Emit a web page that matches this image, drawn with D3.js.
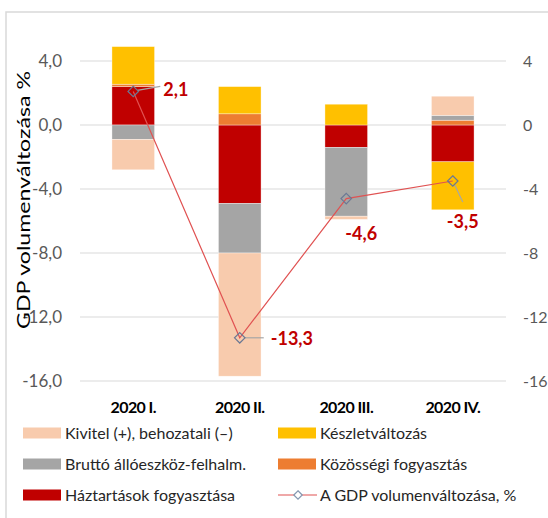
<!DOCTYPE html>
<html>
<head>
<meta charset="utf-8">
<script src="https://cdnjs.cloudflare.com/ajax/libs/d3/7.8.5/d3.min.js"></script>
<style>
  body { margin: 0; background: #fff; }
  svg { display: block; font-family: Lato, "Open Sans", sans-serif; }
</style>
</head>
<body>
<div id="chart"></div>
<script>
// quarters and contributions (percentage points)
const quarters = ["2020 I.", "2020 II.", "2020 III.", "2020 IV."];
const haztartasok = [2.4, -4.9, -1.4, -2.3];
const kozossegi = [0.15, 0.7, 0, 0.3];
const brutto = [-0.9, -3.1, -4.3, 0.3];
const keszlet = [2.35, 1.7, 1.3, -3.0];
const kivitel = [-1.9, -7.7, -0.2, 1.2];
const gdp = [2.1, -13.3, -4.6, -3.5];
const leftTicks = [4, 0, -4, -8, -12, -16];

const seriesKeys = ["haztartasok", "kozossegi", "brutto", "keszlet", "kivitel"];
const seriesNames = {
    kivitel: "Kivitel (+), behozatali (\u2013)",
    keszlet: "Készletváltozás",
    brutto: "Bruttó állóeszköz-felhalm.",
    kozossegi: "Közösségi fogyasztás",
    haztartasok: "Háztartások fogyasztása"
};
const colors = {
    haztartasok: "#C00000",
    kozossegi: "#ED7D31",
    brutto: "#A5A5A5",
    keszlet: "#FFC000",
    kivitel: "#F8CBAD"
};
const lineName = "A GDP volumenváltozása, %";

const W = 548, H = 518;
const margin = {top: 61, right: 42, bottom: 137, left: 80};
const width = W - margin.left - margin.right,
      height = H - margin.top - margin.bottom;

const svg = d3.select("#chart").append("svg")
    .attr("width", W)
    .attr("height", H);

// chart frame
svg.append("rect")
    .attr("x", 6).attr("y", 12)
    .attr("width", W + 20).attr("height", H + 20)
    .attr("fill", "none")
    .attr("stroke", "#d9d9d9")
    .attr("stroke-width", 1.5);

const g = svg.append("g")
    .attr("transform", "translate(" + margin.left + "," + margin.top + ")");

const table = quarters.map(function(q, i) {
    return {
        q: q,
        haztartasok: haztartasok[i],
        kozossegi: kozossegi[i],
        brutto: brutto[i],
        keszlet: keszlet[i],
        kivitel: kivitel[i],
        gdp: gdp[i]
    };
});

const x = d3.scaleBand()
    .domain(quarters)
    .range([0, width])
    .paddingInner(0.6)
    .paddingOuter(0.3);

const y = d3.scaleLinear()
    .domain([-16, 4])
    .range([height, 0]);

// gridlines
g.append("g")
    .selectAll("line")
    .data(leftTicks)
    .join("line")
    .attr("x1", 0).attr("x2", width)
    .attr("y1", function(d) { return y(d); })
    .attr("y2", function(d) { return y(d); })
    .attr("stroke", "#d9d9d9")
    .attr("stroke-width", 1.2);

// left axis
const leftAxis = g.append("g")
    .call(d3.axisLeft(y).tickValues(leftTicks).tickSize(0).tickPadding(18)
        .tickFormat(function(d) { return d3.format(".1f")(d).replace(".", ",").replace("−", "-"); }));
leftAxis.select(".domain").remove();
leftAxis.selectAll("text")
    .attr("fill", "#595959")
    .style("font-family", "Lato, sans-serif")
    .style("font-size", "17px");

// right axis
const rightAxis = g.append("g")
    .attr("transform", "translate(" + width + ",0)")
    .call(d3.axisRight(y).tickValues(leftTicks).tickSize(0).tickPadding(17)
        .tickFormat(function(d) { return String(d); }));
rightAxis.select(".domain").remove();
rightAxis.selectAll("text")
    .attr("fill", "#595959")
    .style("font-family", "Lato, sans-serif")
    .style("font-size", "16px");

// category labels
const xAxis = g.append("g")
    .attr("transform", "translate(0," + height + ")")
    .call(d3.axisBottom(x).tickSize(0).tickPadding(21));
xAxis.select(".domain").remove();
xAxis.selectAll("text")
    .attr("fill", "#000")
    .style("font-family", "Lato, sans-serif")
    .style("font-weight", "bold")
    .style("font-size", "16px")
    .style("letter-spacing", "-0.6px");

// stacked bars
const stacked = d3.stack()
    .keys(seriesKeys)
    .offset(d3.stackOffsetDiverging)(table);

g.append("g")
    .selectAll("g")
    .data(stacked)
    .join("g")
    .attr("fill", function(d) { return colors[d.key]; })
    .selectAll("rect")
    .data(function(d) { return d; })
    .join("rect")
    .attr("x", function(d) { return x(d.data.q); })
    .attr("width", x.bandwidth())
    .attr("y", function(d) { return y(Math.max(d[0], d[1])); })
    .attr("height", function(d) { return Math.abs(y(d[0]) - y(d[1])); })
    .attr("stroke", "#fff")
    .attr("stroke-opacity", 0.6)
    .attr("stroke-width", 0.6);

// GDP line
const cx = function(d) { return x(d.q) + x.bandwidth() / 2; };
g.append("path")
    .datum(table)
    .attr("fill", "none")
    .attr("stroke", "#E05252")
    .attr("stroke-width", 1.2)
    .attr("d", d3.line().x(cx).y(function(d) { return y(d.gdp); }));

// data labels with leader lines
const labelPos = [
    {dx: 30, dy: -2, lead: [[4, -1], [27, -5]]},
    {dx: 31, dy: 1, lead: [[5, 0], [24, 0]]},
    {dx: 15, dy: 35, anchor: "middle", lead: null},
    {dx: 10, dy: 41, anchor: "middle", lead: [[2, 4], [10, 21]]}
];

table.forEach(function(d, i) {
    const px = cx(d), py = y(d.gdp), p = labelPos[i];
    if (p.lead) {
        g.append("line")
            .attr("x1", px + p.lead[0][0]).attr("y1", py + p.lead[0][1])
            .attr("x2", px + p.lead[1][0]).attr("y2", py + p.lead[1][1])
            .attr("stroke", "#a6a6a6")
            .attr("stroke-width", 1.2);
    }
    g.append("text")
        .attr("x", px + p.dx)
        .attr("y", py + p.dy)
        .attr("dy", "0.35em")
        .attr("text-anchor", p.anchor || "start")
        .attr("fill", "#C00000")
        .style("font-weight", "bold")
        .style("font-size", "18px")
        .text(d3.format(".1f")(d.gdp).replace(".", ",").replace("−", "-"));
});

// markers
g.append("g")
    .selectAll("path")
    .data(table)
    .join("path")
    .attr("transform", function(d) { return "translate(" + cx(d) + "," + y(d.gdp) + ")"; })
    .attr("d", d3.symbol().type(d3.symbolDiamond2).size(70))
    .attr("fill", "none")
    .attr("stroke", "#6a7894")
    .attr("stroke-width", 1.2);

// y title
svg.append("text")
    .attr("transform", "translate(30,200) rotate(-90)")
    .attr("text-anchor", "middle")
    .attr("fill", "#000")
    .style("font-size", "17px")
    .attr("textLength", 258)
    .attr("lengthAdjust", "spacingAndGlyphs")
    .text("GDP volumenváltozása %");

// legend
const legendItems = [
    {key: "kivitel", col: 0, row: 0},
    {key: "keszlet", col: 1, row: 0},
    {key: "brutto", col: 0, row: 1},
    {key: "kozossegi", col: 1, row: 1},
    {key: "haztartasok", col: 0, row: 2},
    {key: "gdp", col: 1, row: 2}
];
const colX = [23, 278], rowY = [433, 464, 495];

const legend = svg.append("g");
legendItems.forEach(function(it) {
    const lx = colX[it.col], ly = rowY[it.row];
    if (it.key === "gdp") {
        legend.append("line")
            .attr("x1", lx).attr("x2", lx + 39)
            .attr("y1", ly).attr("y2", ly)
            .attr("stroke", "#E05252").attr("stroke-width", 1.2);
        legend.append("path")
            .attr("transform", "translate(" + (lx + 20) + "," + ly + ")")
            .attr("d", d3.symbol().type(d3.symbolDiamond2).size(45))
            .attr("fill", "#fff")
            .attr("stroke", "#8497B0")
            .attr("stroke-width", 1.2);
    } else {
        legend.append("rect")
            .attr("x", lx).attr("y", ly - 5.5)
            .attr("width", 38).attr("height", 11)
            .attr("fill", colors[it.key]);
    }
    legend.append("text")
        .attr("x", lx + 42)
        .attr("y", ly)
        .attr("dy", "0.35em")
        .attr("fill", "#262626")
        .style("font-size", "16px")
        .text(it.key === "gdp" ? lineName : seriesNames[it.key]);
});
</script>
</body>
</html>
